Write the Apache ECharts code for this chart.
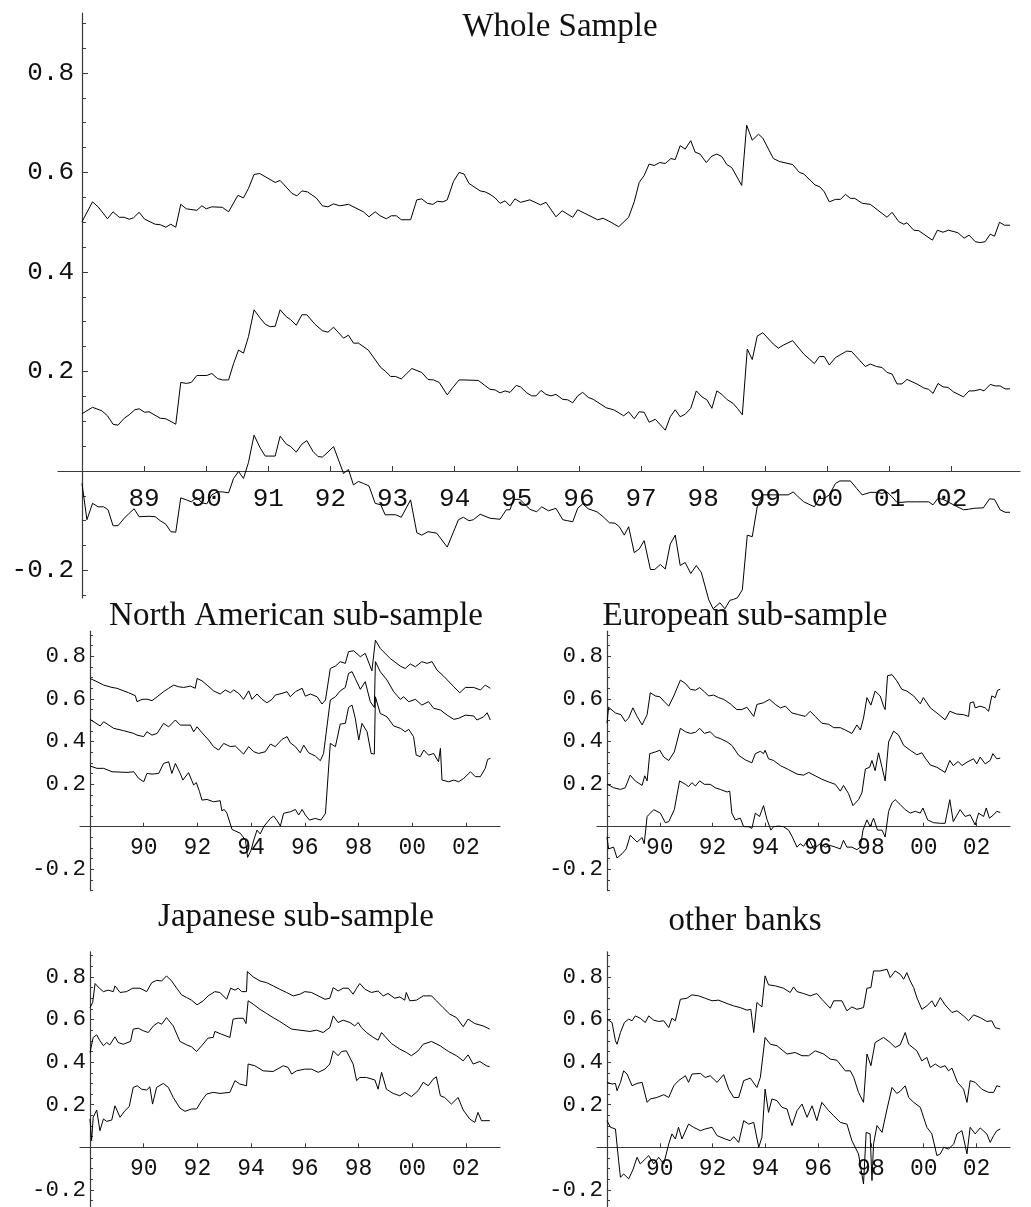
<!DOCTYPE html>
<html>
<head>
<meta charset="utf-8">
<script src="https://cdn.jsdelivr.net/npm/echarts@6/dist/echarts.min.js"></script>
<style>
  html, body { margin: 0; padding: 0; background: #fff; }
  #chart { width: 1031px; height: 1207px; }
</style>
</head>
<body>
<div id="chart"></div>
<script>
// ---- tick values and labels ----
const topTickYears = [1989, 1990, 1991, 1992, 1993, 1994, 1995, 1996, 1997, 1998, 1999, 2000, 2001, 2002];
const subTickYears = [1990, 1992, 1994, 1996, 1998, 2000, 2002];
const yMajorTicks = [-0.2, 0, 0.2, 0.4, 0.6, 0.8];
const yLabelTicks = [-0.2, 0.2, 0.4, 0.6, 0.8];
const topMinorTicks = [-0.25, -0.15, -0.1, -0.05, 0.05, 0.1, 0.15, 0.25, 0.3, 0.35, 0.45, 0.5, 0.55, 0.65, 0.7, 0.75, 0.85, 0.9];
const subMinorTicks = [-0.3, -0.25, -0.15, -0.1, -0.05, 0.05, 0.1, 0.15, 0.25, 0.3, 0.35, 0.45, 0.5, 0.55, 0.65, 0.7, 0.75, 0.85, 0.9];

const panelTitles = ['Whole Sample', 'North American sub-sample', 'European sub-sample', 'Japanese sub-sample', 'other banks'];

// ---- Whole sample: [year, value] ----
const wholeUpper = [[1988.00,0.501],[1988.17,0.541],[1988.26,0.531],[1988.41,0.507],[1988.50,0.521],[1988.60,0.510],[1988.68,0.510],[1988.76,0.506],[1988.83,0.509],[1988.92,0.520],[1989.01,0.506],[1989.18,0.496],[1989.26,0.495],[1989.35,0.490],[1989.43,0.496],[1989.51,0.490],[1989.59,0.536],[1989.68,0.527],[1989.85,0.524],[1989.93,0.533],[1990.00,0.527],[1990.09,0.531],[1990.26,0.530],[1990.36,0.521],[1990.51,0.554],[1990.60,0.549],[1990.68,0.568],[1990.77,0.596],[1990.86,0.598],[1991.11,0.580],[1991.19,0.584],[1991.38,0.558],[1991.46,0.553],[1991.54,0.563],[1991.63,0.561],[1991.77,0.549],[1991.87,0.533],[1991.96,0.531],[1992.05,0.537],[1992.15,0.533],[1992.29,0.536],[1992.53,0.521],[1992.62,0.511],[1992.72,0.521],[1992.80,0.513],[1992.90,0.507],[1992.98,0.513],[1993.06,0.513],[1993.14,0.505],[1993.29,0.505],[1993.39,0.545],[1993.47,0.547],[1993.56,0.538],[1993.65,0.536],[1993.72,0.542],[1993.81,0.541],[1993.88,0.545],[1993.98,0.582],[1994.07,0.600],[1994.15,0.597],[1994.23,0.578],[1994.41,0.563],[1994.49,0.561],[1994.57,0.556],[1994.65,0.549],[1994.73,0.538],[1994.81,0.543],[1994.89,0.533],[1994.97,0.547],[1995.06,0.540],[1995.21,0.545],[1995.38,0.535],[1995.47,0.540],[1995.63,0.511],[1995.73,0.523],[1995.90,0.510],[1995.98,0.525],[1996.30,0.505],[1996.39,0.508],[1996.50,0.501],[1996.64,0.491],[1996.80,0.510],[1996.89,0.541],[1996.97,0.580],[1997.05,0.594],[1997.13,0.617],[1997.21,0.614],[1997.30,0.620],[1997.39,0.618],[1997.48,0.628],[1997.55,0.626],[1997.63,0.654],[1997.71,0.647],[1997.80,0.664],[1997.87,0.641],[1997.95,0.637],[1998.05,0.620],[1998.14,0.633],[1998.22,0.637],[1998.30,0.632],[1998.38,0.616],[1998.46,0.610],[1998.62,0.574],[1998.70,0.695],[1998.79,0.665],[1998.89,0.677],[1998.96,0.669],[1999.13,0.628],[1999.23,0.622],[1999.44,0.616],[1999.55,0.600],[1999.62,0.597],[1999.80,0.575],[1999.88,0.571],[1999.95,0.561],[2000.03,0.541],[2000.13,0.546],[2000.21,0.546],[2000.29,0.556],[2000.37,0.548],[2000.44,0.548],[2000.56,0.538],[2000.69,0.536],[2000.96,0.510],[2001.04,0.520],[2001.15,0.501],[2001.23,0.496],[2001.28,0.499],[2001.39,0.484],[2001.47,0.483],[2001.69,0.464],[2001.77,0.484],[2001.86,0.480],[2001.95,0.484],[2002.10,0.479],[2002.20,0.468],[2002.28,0.474],[2002.38,0.461],[2002.46,0.459],[2002.54,0.461],[2002.62,0.476],[2002.69,0.472],[2002.77,0.500],[2002.85,0.494],[2002.94,0.494]];
const wholeMiddle = [[1988.00,0.115],[1988.17,0.128],[1988.32,0.121],[1988.41,0.111],[1988.50,0.094],[1988.58,0.092],[1988.68,0.106],[1988.76,0.113],[1988.85,0.123],[1988.92,0.125],[1989.01,0.118],[1989.08,0.119],[1989.26,0.106],[1989.35,0.105],[1989.51,0.094],[1989.59,0.178],[1989.68,0.176],[1989.76,0.178],[1989.85,0.192],[1990.01,0.192],[1990.09,0.196],[1990.18,0.186],[1990.26,0.183],[1990.36,0.183],[1990.44,0.216],[1990.52,0.243],[1990.60,0.237],[1990.68,0.270],[1990.77,0.324],[1990.87,0.307],[1990.95,0.295],[1991.03,0.290],[1991.11,0.291],[1991.19,0.324],[1991.29,0.310],[1991.36,0.304],[1991.45,0.293],[1991.54,0.314],[1991.62,0.314],[1991.75,0.295],[1991.87,0.282],[1991.96,0.279],[1992.05,0.289],[1992.21,0.267],[1992.29,0.273],[1992.37,0.257],[1992.45,0.257],[1992.61,0.243],[1992.81,0.208],[1992.88,0.201],[1992.97,0.190],[1993.05,0.190],[1993.14,0.185],[1993.31,0.206],[1993.47,0.198],[1993.57,0.184],[1993.66,0.183],[1993.75,0.178],[1993.88,0.153],[1993.97,0.168],[1994.07,0.183],[1994.15,0.183],[1994.38,0.182],[1994.57,0.164],[1994.65,0.163],[1994.73,0.157],[1994.81,0.161],[1994.89,0.158],[1994.99,0.172],[1995.06,0.169],[1995.16,0.157],[1995.24,0.151],[1995.31,0.151],[1995.39,0.162],[1995.47,0.154],[1995.55,0.151],[1995.63,0.154],[1995.74,0.144],[1995.82,0.143],[1995.90,0.137],[1995.98,0.151],[1996.06,0.158],[1996.15,0.148],[1996.23,0.144],[1996.44,0.127],[1996.56,0.123],[1996.72,0.111],[1996.80,0.119],[1996.89,0.105],[1996.97,0.119],[1997.05,0.118],[1997.13,0.098],[1997.23,0.104],[1997.39,0.082],[1997.47,0.109],[1997.55,0.123],[1997.63,0.109],[1997.71,0.114],[1997.80,0.126],[1997.89,0.161],[1997.98,0.149],[1998.06,0.143],[1998.14,0.126],[1998.22,0.161],[1998.30,0.154],[1998.38,0.144],[1998.48,0.136],[1998.55,0.126],[1998.63,0.113],[1998.71,0.245],[1998.79,0.224],[1998.87,0.271],[1998.96,0.278],[1999.13,0.255],[1999.21,0.247],[1999.29,0.253],[1999.44,0.262],[1999.62,0.235],[1999.79,0.216],[1999.87,0.230],[1999.95,0.230],[2000.03,0.213],[2000.13,0.228],[2000.31,0.241],[2000.39,0.240],[2000.61,0.210],[2000.69,0.215],[2000.79,0.210],[2000.88,0.208],[2000.96,0.198],[2001.04,0.195],[2001.12,0.175],[2001.20,0.175],[2001.28,0.184],[2001.44,0.175],[2001.55,0.167],[2001.63,0.164],[2001.70,0.156],[2001.78,0.176],[2001.86,0.169],[2001.94,0.168],[2002.03,0.159],[2002.19,0.149],[2002.28,0.161],[2002.36,0.161],[2002.46,0.164],[2002.52,0.161],[2002.62,0.174],[2002.70,0.171],[2002.78,0.171],[2002.86,0.165],[2002.94,0.165]];
const wholeLower = [[1988.00,-0.025],[1988.08,-0.098],[1988.17,-0.065],[1988.26,-0.072],[1988.35,-0.072],[1988.42,-0.078],[1988.50,-0.110],[1988.58,-0.110],[1988.68,-0.095],[1988.76,-0.085],[1988.84,-0.076],[1988.92,-0.092],[1989.08,-0.091],[1989.18,-0.092],[1989.26,-0.100],[1989.35,-0.107],[1989.43,-0.122],[1989.51,-0.123],[1989.59,-0.054],[1989.68,-0.058],[1989.76,-0.062],[1989.85,-0.053],[1989.93,-0.064],[1990.01,-0.066],[1990.09,-0.048],[1990.18,-0.042],[1990.26,-0.042],[1990.36,-0.044],[1990.44,-0.015],[1990.52,-0.001],[1990.60,-0.015],[1990.68,0.017],[1990.77,0.072],[1990.87,0.046],[1990.95,0.030],[1991.11,0.030],[1991.19,0.070],[1991.29,0.054],[1991.36,0.049],[1991.45,0.038],[1991.54,0.054],[1991.62,0.061],[1991.72,0.039],[1991.80,0.029],[1991.87,0.028],[1991.96,0.038],[1992.05,0.049],[1992.13,0.022],[1992.21,-0.005],[1992.29,0.003],[1992.37,-0.028],[1992.45,-0.021],[1992.53,-0.025],[1992.62,-0.030],[1992.72,-0.065],[1992.81,-0.068],[1992.88,-0.088],[1993.05,-0.088],[1993.14,-0.093],[1993.29,-0.058],[1993.39,-0.124],[1993.47,-0.129],[1993.57,-0.122],[1993.71,-0.125],[1993.88,-0.153],[1994.06,-0.098],[1994.14,-0.093],[1994.23,-0.100],[1994.30,-0.098],[1994.41,-0.087],[1994.57,-0.095],[1994.73,-0.097],[1994.83,-0.078],[1994.89,-0.078],[1994.95,-0.057],[1995.05,-0.057],[1995.21,-0.077],[1995.32,-0.082],[1995.40,-0.072],[1995.51,-0.080],[1995.63,-0.075],[1995.74,-0.098],[1995.82,-0.100],[1995.90,-0.102],[1995.98,-0.075],[1996.06,-0.066],[1996.15,-0.076],[1996.29,-0.082],[1996.39,-0.092],[1996.49,-0.104],[1996.58,-0.105],[1996.65,-0.112],[1996.73,-0.129],[1996.80,-0.112],[1996.89,-0.164],[1996.97,-0.157],[1997.05,-0.140],[1997.15,-0.198],[1997.22,-0.198],[1997.31,-0.188],[1997.39,-0.197],[1997.47,-0.147],[1997.55,-0.129],[1997.63,-0.190],[1997.71,-0.184],[1997.80,-0.206],[1997.89,-0.190],[1997.97,-0.204],[1998.09,-0.259],[1998.16,-0.277],[1998.27,-0.265],[1998.35,-0.277],[1998.43,-0.260],[1998.49,-0.258],[1998.55,-0.255],[1998.63,-0.239],[1998.71,-0.129],[1998.79,-0.132],[1998.87,-0.072],[1998.96,-0.048],[1999.05,-0.048],[1999.21,-0.048],[1999.37,-0.048],[1999.45,-0.042],[1999.53,-0.052],[1999.62,-0.062],[1999.79,-0.072],[1999.87,-0.055],[1999.95,-0.055],[2000.03,-0.048],[2000.13,-0.025],[2000.20,-0.020],[2000.37,-0.020],[2000.47,-0.035],[2000.56,-0.048],[2000.69,-0.043],[2000.79,-0.043],[2000.88,-0.045],[2000.96,-0.042],[2001.04,-0.052],[2001.12,-0.063],[2001.20,-0.063],[2001.28,-0.062],[2001.44,-0.062],[2001.63,-0.062],[2001.70,-0.068],[2001.78,-0.055],[2001.86,-0.057],[2001.94,-0.062],[2002.03,-0.068],[2002.19,-0.078],[2002.27,-0.077],[2002.36,-0.075],[2002.51,-0.074],[2002.61,-0.056],[2002.69,-0.057],[2002.78,-0.078],[2002.86,-0.083],[2002.94,-0.083]];

// ---- North American sub-sample ----
const naUpper = [[1988.00,0.696],[1988.26,0.681],[1988.51,0.665],[1988.82,0.654],[1989.00,0.650],[1989.44,0.629],[1989.69,0.615],[1989.75,0.587],[1989.94,0.598],[1990.12,0.599],[1990.31,0.592],[1990.50,0.610],[1990.74,0.634],[1990.93,0.650],[1991.12,0.665],[1991.30,0.657],[1991.49,0.654],[1991.74,0.660],[1991.92,0.650],[1991.99,0.696],[1992.17,0.685],[1992.36,0.665],[1992.60,0.638],[1992.85,0.623],[1993.04,0.642],[1993.23,0.629],[1993.35,0.642],[1993.54,0.626],[1993.72,0.598],[1993.91,0.638],[1994.03,0.598],[1994.22,0.623],[1994.41,0.598],[1994.59,0.582],[1994.78,0.598],[1994.90,0.618],[1995.15,0.626],[1995.34,0.634],[1995.46,0.610],[1995.65,0.634],[1995.90,0.650],[1996.02,0.613],[1996.21,0.623],[1996.46,0.610],[1996.64,0.576],[1996.77,0.595],[1996.95,0.743],[1997.14,0.754],[1997.32,0.775],[1997.51,0.767],[1997.63,0.822],[1997.82,0.826],[1998.07,0.798],[1998.25,0.814],[1998.50,0.732],[1998.63,0.876],[1998.81,0.837],[1999.18,0.790],[1999.56,0.754],[1999.74,0.743],[1999.93,0.764],[2000.12,0.751],[2000.36,0.775],[2000.55,0.767],[2000.74,0.775],[2000.92,0.736],[2001.17,0.707],[2001.55,0.657],[2001.77,0.629],[2001.98,0.654],[2002.29,0.654],[2002.54,0.642],[2002.72,0.665],[2002.91,0.650]];
const naMiddle = [[1988.00,0.504],[1988.38,0.473],[1988.51,0.493],[1988.88,0.462],[1989.25,0.451],[1989.63,0.438],[1989.75,0.430],[1990.00,0.423],[1990.12,0.446],[1990.31,0.430],[1990.50,0.438],[1990.74,0.485],[1990.93,0.469],[1991.18,0.501],[1991.36,0.477],[1991.74,0.477],[1991.86,0.446],[1991.99,0.469],[1992.17,0.441],[1992.42,0.407],[1992.60,0.376],[1992.79,0.360],[1992.98,0.391],[1993.23,0.376],[1993.41,0.379],[1993.72,0.341],[1993.91,0.376],[1994.10,0.352],[1994.28,0.344],[1994.53,0.352],[1994.72,0.388],[1994.90,0.376],[1995.15,0.410],[1995.34,0.423],[1995.46,0.394],[1995.65,0.376],[1995.83,0.347],[1995.96,0.383],[1996.14,0.347],[1996.39,0.332],[1996.58,0.310],[1996.70,0.344],[1996.95,0.595],[1997.14,0.610],[1997.32,0.638],[1997.51,0.654],[1997.63,0.720],[1997.76,0.728],[1997.88,0.696],[1998.07,0.645],[1998.25,0.681],[1998.44,0.587],[1998.59,0.560],[1998.63,0.775],[1998.81,0.728],[1999.06,0.689],[1999.31,0.634],[1999.56,0.598],[1999.68,0.610],[1999.87,0.587],[2000.12,0.598],[2000.36,0.571],[2000.61,0.587],[2000.80,0.556],[2001.05,0.548],[2001.30,0.524],[2001.55,0.504],[2001.73,0.509],[2001.98,0.524],[2002.29,0.520],[2002.41,0.501],[2002.66,0.516],[2002.79,0.535],[2002.91,0.501]];
const naLower = [[1988.00,0.285],[1988.26,0.274],[1988.51,0.274],[1988.82,0.258],[1989.38,0.255],[1989.63,0.258],[1989.81,0.227],[1990.00,0.211],[1990.12,0.250],[1990.31,0.247],[1990.56,0.250],[1990.74,0.297],[1990.93,0.305],[1991.05,0.250],[1991.18,0.297],[1991.36,0.250],[1991.46,0.219],[1991.67,0.254],[1991.86,0.196],[1991.96,0.207],[1992.08,0.164],[1992.17,0.125],[1992.36,0.128],[1992.60,0.117],[1992.85,0.122],[1992.91,0.075],[1993.00,0.081],[1993.10,0.063],[1993.29,-0.013],[1993.60,-0.031],[1993.79,-0.063],[1993.87,-0.144],[1994.00,-0.110],[1994.10,-0.063],[1994.22,-0.016],[1994.34,-0.034],[1994.47,0.000],[1994.59,0.019],[1994.72,0.039],[1994.84,0.050],[1994.97,0.028],[1995.09,0.003],[1995.21,0.063],[1995.46,0.070],[1995.65,0.081],[1995.77,0.055],[1995.90,0.081],[1996.02,0.055],[1996.18,0.031],[1996.39,0.039],[1996.60,0.031],[1996.77,0.063],[1996.95,0.391],[1997.14,0.376],[1997.32,0.482],[1997.51,0.485],[1997.63,0.560],[1997.76,0.571],[1997.88,0.509],[1998.01,0.407],[1998.13,0.485],[1998.32,0.446],[1998.47,0.344],[1998.59,0.341],[1998.63,0.610],[1998.81,0.532],[1999.06,0.516],[1999.31,0.473],[1999.56,0.462],[1999.74,0.446],[1999.87,0.457],[2000.05,0.423],[2000.15,0.336],[2000.30,0.329],[2000.43,0.360],[2000.61,0.336],[2000.80,0.344],[2000.98,0.305],[2001.05,0.368],[2001.11,0.219],[2001.36,0.211],[2001.55,0.219],[2001.73,0.211],[2001.92,0.227],[2002.17,0.258],[2002.35,0.235],[2002.54,0.235],[2002.72,0.274],[2002.81,0.316],[2002.91,0.321]];

// ---- European sub-sample ----
const euUpper = [[1988.00,0.486],[1988.06,0.561],[1988.32,0.534],[1988.53,0.526],[1988.69,0.494],[1988.82,0.510],[1988.98,0.558],[1989.14,0.518],[1989.33,0.478],[1989.52,0.526],[1989.64,0.629],[1989.83,0.614],[1990.00,0.610],[1990.15,0.590],[1990.34,0.566],[1990.53,0.614],[1990.78,0.688],[1990.97,0.673],[1991.16,0.645],[1991.35,0.641],[1991.51,0.653],[1991.69,0.634],[1991.85,0.614],[1992.04,0.618],[1992.23,0.606],[1992.42,0.598],[1992.67,0.577],[1992.92,0.550],[1993.11,0.550],[1993.30,0.561],[1993.56,0.518],[1993.68,0.574],[1993.93,0.582],[1994.16,0.598],[1994.38,0.574],[1994.57,0.558],[1994.76,0.566],[1995.01,0.534],[1995.26,0.526],[1995.51,0.518],[1995.70,0.542],[1995.89,0.518],[1996.14,0.486],[1996.40,0.481],[1996.59,0.465],[1996.84,0.465],[1997.03,0.454],[1997.28,0.438],[1997.47,0.478],[1997.60,0.454],[1997.72,0.510],[1997.85,0.606],[1998.00,0.571],[1998.16,0.637],[1998.35,0.614],[1998.48,0.566],[1998.54,0.550],[1998.63,0.709],[1998.80,0.714],[1998.98,0.685],[1999.17,0.645],[1999.36,0.637],[1999.62,0.614],[1999.87,0.577],[1999.99,0.606],[2000.25,0.558],[2000.50,0.534],[2000.81,0.502],[2000.99,0.542],[2001.25,0.529],[2001.51,0.526],[2001.70,0.518],[2001.76,0.582],[2001.89,0.586],[2001.95,0.558],[2002.14,0.566],[2002.33,0.558],[2002.46,0.542],[2002.58,0.614],[2002.71,0.606],[2002.80,0.641],[2002.90,0.645]];
const euMiddle = [[1988.00,0.200],[1988.25,0.183],[1988.51,0.175],[1988.69,0.183],[1988.88,0.242],[1989.07,0.215],[1989.33,0.194],[1989.43,0.239],[1989.52,0.215],[1989.62,0.343],[1989.83,0.351],[1990.00,0.359],[1990.15,0.327],[1990.34,0.311],[1990.55,0.351],[1990.78,0.462],[1990.97,0.446],[1991.16,0.438],[1991.35,0.443],[1991.51,0.462],[1991.69,0.438],[1991.91,0.446],[1992.10,0.422],[1992.29,0.414],[1992.55,0.398],[1992.73,0.382],[1992.99,0.335],[1993.24,0.314],[1993.49,0.300],[1993.62,0.343],[1993.81,0.354],[1993.93,0.343],[1993.99,0.359],[1994.12,0.319],[1994.31,0.311],[1994.57,0.287],[1994.88,0.268],[1995.20,0.247],[1995.45,0.242],[1995.64,0.255],[1995.89,0.239],[1996.14,0.223],[1996.40,0.210],[1996.65,0.199],[1996.84,0.167],[1996.96,0.194],[1997.15,0.156],[1997.32,0.099],[1997.53,0.127],[1997.66,0.159],[1997.79,0.271],[1997.95,0.279],[1998.04,0.311],[1998.16,0.263],[1998.29,0.347],[1998.42,0.279],[1998.54,0.215],[1998.67,0.398],[1998.86,0.449],[1999.05,0.430],[1999.24,0.382],[1999.49,0.359],[1999.74,0.338],[1999.93,0.347],[2000.06,0.322],[2000.25,0.290],[2000.50,0.279],[2000.81,0.255],[2000.99,0.311],[2001.12,0.287],[2001.31,0.306],[2001.45,0.287],[2001.64,0.303],[2001.89,0.319],[2002.01,0.295],[2002.14,0.327],[2002.33,0.295],[2002.52,0.311],[2002.62,0.343],[2002.77,0.319],[2002.90,0.322]];
const euLower = [[1988.00,-0.048],[1988.06,-0.104],[1988.25,-0.096],[1988.38,-0.147],[1988.57,-0.127],[1988.73,-0.104],[1988.88,-0.040],[1989.14,-0.072],[1989.33,-0.051],[1989.41,-0.080],[1989.52,0.048],[1989.77,0.080],[1990.02,0.064],[1990.21,0.019],[1990.34,0.024],[1990.55,0.080],[1990.75,0.215],[1990.97,0.199],[1991.09,0.188],[1991.22,0.207],[1991.35,0.191],[1991.51,0.215],[1991.69,0.199],[1991.91,0.199],[1992.10,0.183],[1992.29,0.175],[1992.55,0.163],[1992.65,0.167],[1992.73,0.064],[1992.86,0.032],[1993.05,0.040],[1993.18,0.000],[1993.37,0.000],[1993.49,-0.008],[1993.62,0.064],[1993.78,0.048],[1993.93,0.099],[1994.06,0.035],[1994.21,-0.016],[1994.31,0.000],[1994.50,0.003],[1994.69,0.000],[1994.88,-0.016],[1995.01,-0.045],[1995.20,-0.096],[1995.32,-0.080],[1995.45,-0.092],[1995.64,-0.056],[1995.83,-0.104],[1996.08,-0.080],[1996.27,-0.096],[1996.46,-0.088],[1996.65,-0.096],[1996.84,-0.104],[1996.96,-0.064],[1997.09,-0.096],[1997.28,-0.096],[1997.47,-0.108],[1997.60,-0.096],[1997.70,-0.016],[1997.85,0.032],[1997.97,0.000],[1998.10,0.040],[1998.25,-0.016],[1998.42,-0.016],[1998.54,-0.048],[1998.67,0.072],[1998.80,0.112],[1998.92,0.127],[1999.11,0.104],[1999.30,0.080],[1999.49,0.064],[1999.68,0.072],[1999.87,0.064],[1999.97,0.088],[2000.15,0.032],[2000.37,0.019],[2000.63,0.016],[2000.81,0.016],[2000.99,0.127],[2001.12,0.024],[2001.38,0.080],[2001.57,0.048],[2001.76,0.056],[2001.95,0.008],[2002.08,0.064],[2002.27,0.048],[2002.37,0.088],[2002.49,0.040],[2002.65,0.056],[2002.77,0.072],[2002.90,0.067]];

// ---- Japanese sub-sample ----
const jpUpper = [[1988.00,0.656],[1988.10,0.680],[1988.19,0.769],[1988.35,0.747],[1988.50,0.731],[1988.68,0.738],[1988.87,0.731],[1988.93,0.758],[1989.12,0.727],[1989.36,0.731],[1989.59,0.747],[1989.86,0.747],[1990.11,0.731],[1990.30,0.773],[1990.48,0.784],[1990.67,0.781],[1990.85,0.805],[1991.04,0.781],[1991.23,0.747],[1991.41,0.716],[1991.60,0.703],[1991.78,0.691],[1991.99,0.669],[1992.22,0.688],[1992.40,0.711],[1992.65,0.731],[1992.84,0.727],[1993.09,0.695],[1993.24,0.747],[1993.40,0.738],[1993.52,0.747],[1993.65,0.731],[1993.83,0.731],[1993.86,0.825],[1994.08,0.800],[1994.33,0.781],[1994.58,0.773],[1994.82,0.758],[1995.07,0.742],[1995.32,0.727],[1995.57,0.711],[1995.82,0.719],[1996.00,0.731],[1996.25,0.727],[1996.50,0.711],[1996.75,0.695],[1996.93,0.700],[1997.06,0.750],[1997.24,0.734],[1997.43,0.747],[1997.62,0.747],[1997.80,0.719],[1997.93,0.747],[1998.05,0.769],[1998.24,0.742],[1998.48,0.727],[1998.73,0.734],[1998.92,0.711],[1999.10,0.722],[1999.35,0.700],[1999.54,0.706],[1999.72,0.691],[1999.78,0.727],[1999.91,0.688],[2000.16,0.691],[2000.41,0.711],[2000.72,0.711],[2000.90,0.688],[2001.15,0.656],[2001.40,0.625],[2001.65,0.609],[2001.90,0.566],[2002.08,0.602],[2002.33,0.581],[2002.64,0.570],[2002.89,0.555]];
const jpMiddle = [[1988.00,0.445],[1988.12,0.516],[1988.25,0.528],[1988.37,0.500],[1988.50,0.477],[1988.62,0.492],[1988.74,0.481],[1988.93,0.519],[1989.05,0.492],[1989.24,0.484],[1989.51,0.497],[1989.61,0.555],[1989.80,0.559],[1989.99,0.547],[1990.17,0.539],[1990.36,0.570],[1990.54,0.586],[1990.67,0.578],[1990.85,0.609],[1991.10,0.570],[1991.35,0.497],[1991.60,0.481],[1991.78,0.472],[1991.97,0.450],[1992.16,0.477],[1992.40,0.513],[1992.59,0.516],[1992.65,0.544],[1992.90,0.531],[1993.21,0.516],[1993.33,0.602],[1993.52,0.606],[1993.71,0.606],[1993.81,0.581],[1993.89,0.688],[1994.08,0.672],[1994.33,0.648],[1994.58,0.628],[1994.82,0.609],[1995.07,0.591],[1995.32,0.570],[1995.51,0.555],[1995.82,0.550],[1996.19,0.544],[1996.44,0.550],[1996.68,0.539],[1996.93,0.562],[1997.06,0.617],[1997.24,0.586],[1997.43,0.597],[1997.68,0.586],[1997.86,0.570],[1997.99,0.586],[1998.11,0.562],[1998.30,0.539],[1998.55,0.516],[1998.73,0.503],[1998.86,0.539],[1999.04,0.513],[1999.23,0.487],[1999.54,0.461],[1999.79,0.445],[1999.97,0.430],[2000.22,0.453],[2000.41,0.484],[2000.72,0.497],[2001.04,0.477],[2001.35,0.450],[2001.65,0.430],[2001.90,0.406],[2002.08,0.434],[2002.27,0.391],[2002.52,0.403],[2002.76,0.383],[2002.89,0.378]];
const jpLower = [[1988.00,0.133],[1988.06,0.031],[1988.12,0.141],[1988.25,0.175],[1988.37,0.078],[1988.50,0.133],[1988.62,0.122],[1988.81,0.128],[1988.93,0.195],[1989.12,0.141],[1989.30,0.172],[1989.46,0.191],[1989.61,0.281],[1989.76,0.289],[1989.92,0.273],[1990.11,0.269],[1990.23,0.284],[1990.33,0.203],[1990.48,0.281],[1990.73,0.300],[1990.92,0.281],[1991.10,0.234],[1991.35,0.184],[1991.54,0.169],[1991.78,0.180],[1991.97,0.180],[1992.16,0.219],[1992.34,0.250],[1992.59,0.258],[1992.84,0.253],[1993.21,0.258],[1993.40,0.313],[1993.58,0.297],[1993.83,0.289],[1993.89,0.391],[1994.14,0.383],[1994.45,0.359],[1994.82,0.356],[1995.20,0.383],[1995.38,0.375],[1995.51,0.344],[1995.69,0.359],[1996.00,0.367],[1996.25,0.367],[1996.50,0.352],[1996.75,0.367],[1996.93,0.391],[1997.06,0.453],[1997.24,0.430],[1997.37,0.450],[1997.55,0.453],[1997.80,0.391],[1997.93,0.313],[1998.05,0.328],[1998.30,0.328],[1998.61,0.316],[1998.73,0.273],[1998.86,0.352],[1999.04,0.273],[1999.29,0.253],[1999.54,0.242],[1999.72,0.258],[1999.97,0.238],[2000.22,0.266],[2000.41,0.305],[2000.60,0.289],[2000.78,0.320],[2000.90,0.331],[2001.05,0.242],[2001.21,0.234],[2001.46,0.203],[2001.71,0.234],[2001.90,0.175],[2002.14,0.133],[2002.33,0.117],[2002.45,0.164],[2002.58,0.125],[2002.89,0.125]];

// ---- other banks ----
const otUpper = [[1988.00,0.602],[1988.19,0.586],[1988.32,0.500],[1988.38,0.484],[1988.51,0.539],[1988.66,0.586],[1988.82,0.602],[1988.95,0.594],[1989.07,0.617],[1989.26,0.606],[1989.45,0.586],[1989.58,0.617],[1989.77,0.597],[1989.96,0.591],[1990.15,0.594],[1990.34,0.562],[1990.46,0.606],[1990.59,0.594],[1990.78,0.695],[1991.03,0.700],[1991.22,0.716],[1991.47,0.711],[1991.72,0.700],[1991.98,0.688],[1992.23,0.691],[1992.55,0.675],[1992.80,0.664],[1993.05,0.656],[1993.30,0.644],[1993.45,0.648],[1993.56,0.539],[1993.68,0.680],[1993.87,0.659],[1993.99,0.805],[1994.12,0.763],[1994.38,0.758],[1994.69,0.747],[1994.94,0.727],[1995.07,0.753],[1995.20,0.731],[1995.45,0.722],[1995.70,0.711],[1995.95,0.722],[1996.14,0.695],[1996.46,0.653],[1996.59,0.688],[1996.90,0.688],[1997.09,0.641],[1997.28,0.659],[1997.47,0.648],[1997.72,0.656],[1997.85,0.747],[1998.00,0.750],[1998.10,0.828],[1998.35,0.828],[1998.61,0.836],[1998.73,0.797],[1998.92,0.828],[1999.11,0.813],[1999.24,0.789],[1999.36,0.820],[1999.49,0.781],[1999.62,0.750],[1999.74,0.703],[1999.93,0.648],[2000.12,0.664],[2000.31,0.688],[2000.44,0.659],[2000.63,0.703],[2000.81,0.669],[2001.07,0.633],[2001.26,0.641],[2001.51,0.617],[2001.70,0.594],[2001.89,0.622],[2002.14,0.609],[2002.39,0.591],[2002.58,0.594],[2002.71,0.562],[2002.90,0.555]];
const otMiddle = [[1988.00,0.305],[1988.19,0.297],[1988.32,0.300],[1988.38,0.266],[1988.51,0.305],[1988.63,0.359],[1988.76,0.344],[1988.95,0.289],[1989.14,0.300],[1989.33,0.305],[1989.52,0.211],[1989.64,0.227],[1989.89,0.234],[1990.15,0.247],[1990.34,0.234],[1990.53,0.289],[1990.71,0.313],[1990.97,0.336],[1991.09,0.305],[1991.22,0.344],[1991.54,0.347],[1991.72,0.328],[1991.91,0.336],[1992.17,0.305],[1992.42,0.341],[1992.61,0.273],[1992.80,0.234],[1992.99,0.234],[1993.18,0.313],[1993.43,0.325],[1993.68,0.281],[1993.81,0.328],[1993.99,0.516],[1994.19,0.484],[1994.44,0.477],[1994.82,0.438],[1995.13,0.445],[1995.39,0.430],[1995.64,0.430],[1995.89,0.453],[1996.21,0.438],[1996.46,0.414],[1996.71,0.409],[1997.03,0.359],[1997.22,0.359],[1997.35,0.328],[1997.53,0.258],[1997.72,0.211],[1997.85,0.438],[1998.00,0.383],[1998.16,0.492],[1998.48,0.516],[1998.73,0.492],[1998.92,0.469],[1999.11,0.481],[1999.30,0.539],[1999.43,0.484],[1999.74,0.453],[1999.93,0.406],[2000.12,0.422],[2000.25,0.375],[2000.44,0.391],[2000.63,0.375],[2000.81,0.383],[2000.94,0.359],[2001.07,0.372],[2001.28,0.305],[2001.51,0.273],[2001.64,0.211],[2001.76,0.313],[2001.95,0.305],[2002.20,0.273],[2002.46,0.258],[2002.65,0.258],[2002.77,0.289],[2002.90,0.284]];
const otLower = [[1988.00,0.125],[1988.13,0.094],[1988.32,0.086],[1988.44,-0.063],[1988.51,-0.141],[1988.63,-0.125],[1988.82,-0.148],[1988.98,-0.106],[1989.14,-0.047],[1989.26,-0.078],[1989.45,-0.055],[1989.58,-0.039],[1989.77,-0.078],[1989.96,-0.047],[1990.15,-0.078],[1990.34,0.016],[1990.46,0.063],[1990.59,0.039],[1990.71,0.094],[1990.84,0.039],[1991.09,0.109],[1991.28,0.094],[1991.54,0.078],[1991.72,0.086],[1991.98,0.094],[1992.17,0.055],[1992.48,0.039],[1992.67,0.031],[1992.80,0.050],[1992.99,0.023],[1993.18,0.125],[1993.37,0.109],[1993.56,0.117],[1993.75,0.000],[1993.87,0.047],[1993.99,0.273],[1994.12,0.164],[1994.25,0.227],[1994.44,0.219],[1994.63,0.188],[1994.82,0.180],[1995.01,0.102],[1995.20,0.172],[1995.39,0.203],[1995.58,0.141],[1995.77,0.195],[1995.95,0.125],[1996.14,0.211],[1996.40,0.172],[1996.59,0.148],[1996.84,0.117],[1997.09,0.109],[1997.28,0.031],[1997.53,-0.031],[1997.72,-0.172],[1997.82,0.070],[1997.97,0.063],[1998.04,-0.156],[1998.10,0.016],[1998.23,0.102],[1998.42,0.070],[1998.61,0.180],[1998.80,0.281],[1998.98,0.253],[1999.11,0.263],[1999.30,0.289],[1999.43,0.234],[1999.62,0.211],[1999.87,0.188],[2000.12,0.094],[2000.31,0.063],[2000.50,-0.039],[2000.63,-0.031],[2000.76,0.000],[2000.94,-0.008],[2001.14,0.016],[2001.26,0.063],[2001.45,0.078],[2001.64,-0.031],[2001.76,0.094],[2001.95,0.063],[2002.14,0.091],[2002.39,0.063],[2002.52,0.023],[2002.65,0.055],[2002.77,0.078],[2002.90,0.086]];

// ---- layout ----
const BASE_YEAR = 1988;
const AXIS_COLOR = '#3a3a3a';
const TEXT_COLOR = '#111';
const MONO = '"Liberation Mono", "DejaVu Sans Mono", monospace';
const SERIF = '"Liberation Serif", "DejaVu Serif", serif';

// Each panel: plot rectangle, axis ranges (x in years after 1988), and where the
// axes cross (year 1988 / value 0), expressed as pixel offsets inside the rectangle.
const panels = [
  { title: panelTitles[0], titleAt: [560, 27],
    grid: { left: 58, top: 13, width: 962, height: 585 },
    x: [-0.386, 15.10], y: [-0.2553, 0.9206],
    years: topTickYears, minor: topMinorTicks, big: true,
    lines: [wholeUpper, wholeMiddle, wholeLower] },
  { title: panelTitles[1], titleAt: [296, 616],
    grid: { left: 80, top: 631.2, width: 420, height: 259.4 },
    x: [-0.372, 15.27], y: [-0.30, 0.918],
    years: subTickYears, minor: subMinorTicks, big: false,
    lines: [naUpper, naMiddle, naLower] },
  { title: panelTitles[2], titleAt: [745, 616],
    grid: { left: 597, top: 631.2, width: 413, height: 259.4 },
    x: [-0.379, 15.27], y: [-0.30, 0.918],
    years: subTickYears, minor: subMinorTicks, big: false,
    lines: [euUpper, euMiddle, euLower] },
  { title: panelTitles[3], titleAt: [296, 917],
    grid: { left: 80, top: 951.8, width: 420, height: 259.4 },
    x: [-0.372, 15.27], y: [-0.30, 0.918],
    years: subTickYears, minor: subMinorTicks, big: false,
    lines: [jpUpper, jpMiddle, jpLower] },
  { title: panelTitles[4], titleAt: [745, 921],
    grid: { left: 597, top: 951.8, width: 413, height: 259.4 },
    x: [-0.379, 15.27], y: [-0.30, 0.918],
    years: subTickYears, minor: subMinorTicks, big: false,
    lines: [otUpper, otMiddle, otLower] }
];

const yearLabel = v => String((88 + Math.round(v)) % 100).padStart(2, '0');

const option = {
  animation: false,
  backgroundColor: '#fff',
  grid: [], xAxis: [], yAxis: [], series: [], graphic: []
};

panels.forEach((p, i) => {
  const g = p.grid;
  // pixel distance from the plot edges to the crossing point of the axes
  const zeroFromBottom = g.height * (0 - p.y[0]) / (p.y[1] - p.y[0]);
  const zeroFromLeft = g.width * (0 - p.x[0]) / (p.x[1] - p.x[0]);
  const xLabelSize = p.big ? 26 : 23;
  const yLabelSize = p.big ? 26 : 22.5;

  option.grid.push(Object.assign({ containLabel: false, outerBoundsMode: 'none' }, g));

  option.xAxis.push({
    type: 'value', gridIndex: i, min: p.x[0], max: p.x[1],
    position: 'bottom', offset: -zeroFromBottom,
    axisLine: { show: true, onZero: false, lineStyle: { color: AXIS_COLOR, width: 1.2 } },
    axisTick: { show: true, inside: true, length: p.big ? 5 : 4,
      customValues: p.years.map(y => y - BASE_YEAR),
      lineStyle: { color: AXIS_COLOR, width: 1 } },
    axisLabel: { show: true, customValues: p.years.map(y => y - BASE_YEAR),
      formatter: yearLabel, margin: p.big ? 15 : 10,
      fontFamily: MONO, fontSize: xLabelSize, color: TEXT_COLOR },
    splitLine: { show: false }
  });

  // major ticks with labels
  const majorIdx = option.yAxis.length;
  option.yAxis.push({
    type: 'value', gridIndex: i, min: p.y[0], max: p.y[1],
    position: 'left', offset: -zeroFromLeft,
    axisLine: { show: true, onZero: false, lineStyle: { color: AXIS_COLOR, width: 1.2 } },
    axisTick: { show: true, inside: true, length: p.big ? 6 : 4,
      customValues: yMajorTicks, lineStyle: { color: AXIS_COLOR, width: 1 } },
    axisLabel: { show: true, customValues: yLabelTicks,
      formatter: v => v.toFixed(1), margin: p.big ? 8 : 4,
      fontFamily: MONO, fontSize: yLabelSize, color: TEXT_COLOR },
    splitLine: { show: false }
  });
  // minor ticks
  option.yAxis.push({
    type: 'value', gridIndex: i, min: p.y[0], max: p.y[1],
    position: 'left', offset: -zeroFromLeft,
    axisLine: { show: false, onZero: false },
    axisTick: { show: true, inside: true, length: p.big ? 4 : 3,
      customValues: p.minor, lineStyle: { color: AXIS_COLOR, width: 1 } },
    axisLabel: { show: false },
    splitLine: { show: false }
  });

  p.lines.forEach(line => {
    option.series.push({
      type: 'line', xAxisIndex: i, yAxisIndex: majorIdx,
      data: line.map(d => [d[0] - BASE_YEAR, d[1]]),
      showSymbol: false, symbol: 'none', clip: false,
      lineStyle: { color: '#000', width: 1 },
      emphasis: { disabled: true }, silent: true
    });
  });

  option.graphic.push({
    type: 'text', x: p.titleAt[0], y: p.titleAt[1], silent: true,
    style: { text: p.title, font: '33px ' + SERIF, fill: TEXT_COLOR,
      textAlign: 'center', textVerticalAlign: 'middle' }
  });
});

const chart = echarts.init(document.getElementById('chart'), null, { renderer: 'canvas' });
chart.setOption(option);
</script>
</body>
</html>
